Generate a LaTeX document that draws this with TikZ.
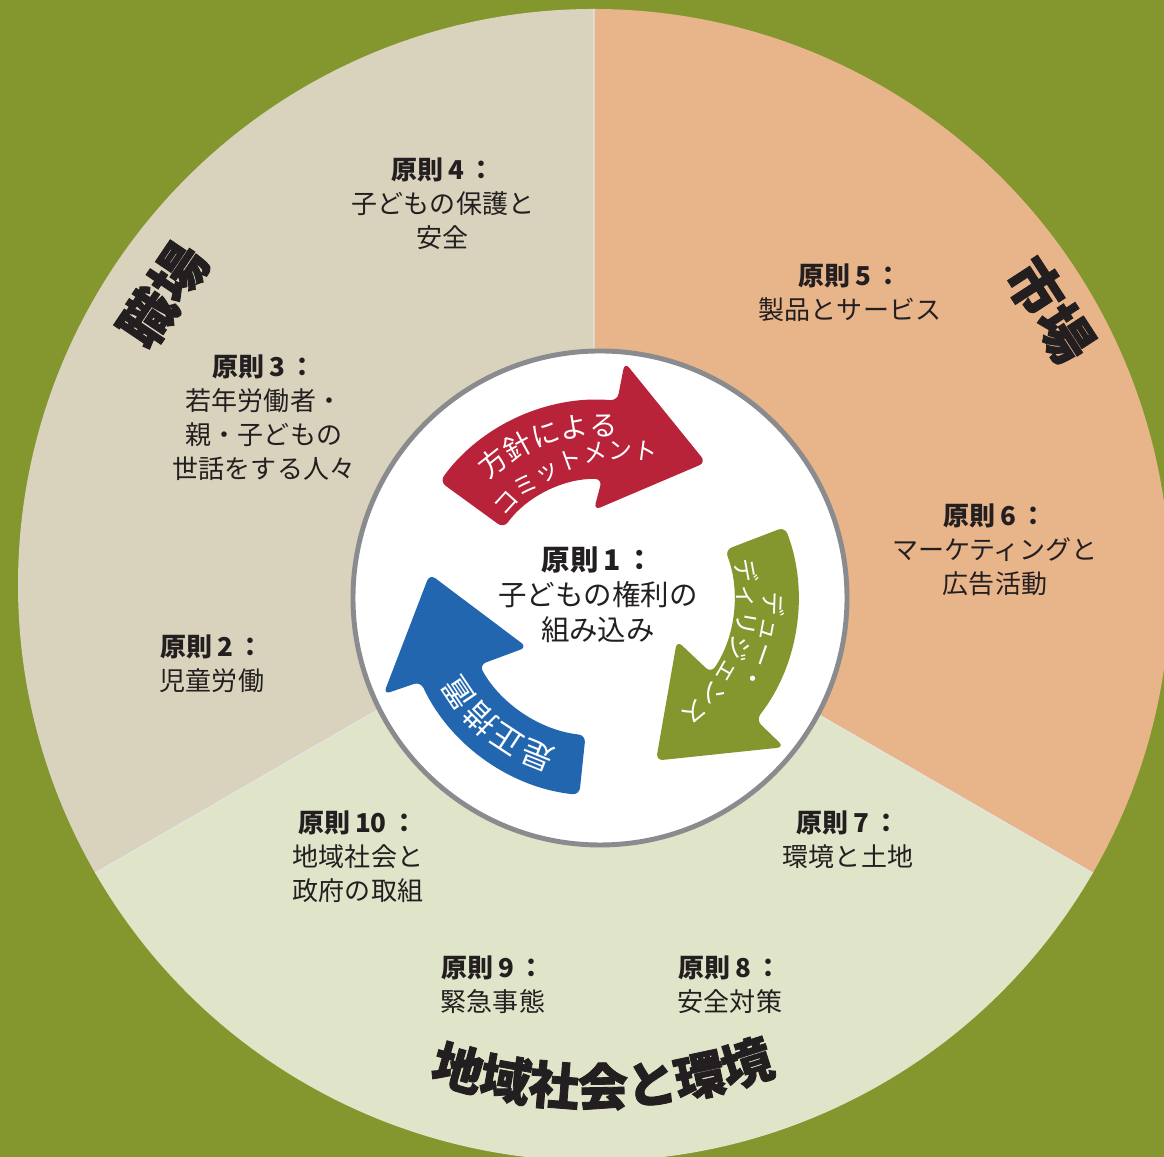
\documentclass[tikz,border=0pt]{standalone}
\usepackage{fontspec}
\setmainfont{Noto Sans CJK JP}
\newfontfamily\heavyfont{Noto Sans CJK JP}[BoldFeatures={FakeBold=1.6}]
\usepackage{tikz}
\usetikzlibrary{calc, decorations.text}
\definecolor{bgolive}{RGB}{132,151,46}
\definecolor{wpbeige}{RGB}{217,211,189}
\definecolor{mkpeach}{RGB}{232,180,138}
\definecolor{cmpale}{RGB}{224,228,200}
\definecolor{ringgray}{RGB}{138,139,142}
\definecolor{arrred}{RGB}{184,35,57}
\definecolor{arrblue}{RGB}{34,102,176}
\definecolor{inkdark}{RGB}{35,31,32}

\begin{document}
\begin{tikzpicture}[x=0.1mm, y=0.1mm,
    principle/.style={align=center, text=inkdark, font=\fontsize{7.4}{9.7}\selectfont},
    area/.style={text=inkdark, font=\heavyfont\bfseries\fontsize{15.6}{15.6}\selectfont},
    pics/cycarrow/.style={code={\path[pic actions, rounded corners=2pt] (0:198) arc (0:-59:198) -- (-60:237) -- (-92:172) -- (-50:88) -- (-55:#1) arc (-55:0:#1) -- cycle;}}]
    \useasboundingbox (0,0) rectangle (1164,1157);
    \clip (0,0) rectangle (1164,1157);
    \fill[bgolive] (0,0) rectangle (1164,1157);
    \coordinate (O) at (594,572);
    \coordinate (C) at (600,559);
    % three fields
    \fill[wpbeige] (O) -- ++(90:576) arc (90:210:576) -- cycle;
    \fill[cmpale] (O) -- ++(210:576) arc (210:330:576) -- cycle;
    \fill[mkpeach] (O) -- ++(330:576) arc (330:450:576) -- cycle;
    \draw[black!10, line width=0.3pt] (O) -- ++(90:576) (O) -- ++(210:576) (O) -- ++(330:576);
    \draw[ringgray, line width=1.4pt, fill=white] (C) circle (247);
    % cycle arrows
    \pic[fill=arrred, rotate=144] at (C) {cycarrow=119};
    \pic[fill=bgolive, rotate=21] at (C) {cycarrow=134};
    \pic[fill=arrblue, rotate=264] at (C) {cycarrow=138};
    \path[decorate, decoration={text along path, text align=center, text={|\color{white}\fontsize{8}{8}\selectfont|方針による}}] ($(C)+(138.5:162)$) arc (138.5:78.5:162);
    \path[decorate, decoration={text along path, text align=center, text={|\color{white}\fontsize{6.9}{6.9}\selectfont|コミットメント}}] ($(C)+(24,-11)+(150:150)$) arc (150:70:150);
    \path[decorate, decoration={text along path, text align=center, text={|\color{white}\fontsize{7}{7}\selectfont|デュー・}}] ($(C)+(10:164)$) arc (10:-40:164);
    \path[decorate, decoration={text along path, text align=center, text={|\color{white}\fontsize{7}{7}\selectfont|ディリジェンス}}] ($(C)+(20:139)$) arc (20:-60:139);
    \path[decorate, decoration={text along path, text align=center, text={|\color{white}\fontsize{9}{9}\selectfont|是正措置}}] ($(C)+(271:158)$) arc (271:191:158);
    % areas
    \node[area, rotate=56] (workplace) at (163,862) {職場};
    \node[area, rotate=-57] (market) at (1050,847) {市場};
    \path[decorate, decoration={text along path, text align=center, text={|\color{inkdark}\heavyfont\bfseries\fontsize{14.4}{14.4}\selectfont|地域社会と環境}}] ($(O)+(231:521)$) arc (231:311:521);
    % principles
    \node[principle, font=\fontsize{8.1}{10}\selectfont] (p1) at (598,562) {\textbf{原則\,1\,：}\\子どもの権利の\\組み込み};
    \node[principle] (p2) at (212,493) {\textbf{原則\,2\,：}\\児童労働};
    \node[principle] (p3) at (264,739) {\textbf{原則\,3\,：}\\若年労働者・\\親・子どもの\\世話をする人々};
    \node[principle] (p4) at (443,953) {\textbf{原則\,4\,：}\\子どもの保護と\\安全};
    \node[principle] (p5) at (850,864) {\textbf{原則\,5\,：}\\製品とサービス};
    \node[principle] (p6) at (995,607) {\textbf{原則\,6\,：}\\マーケティングと\\広告活動};
    \node[principle] (p7) at (848,317) {\textbf{原則\,7\,：}\\環境と土地};
    \node[principle] (p8) at (730,172) {\textbf{原則\,8\,：}\\安全対策};
    \node[principle] (p9) at (493,172) {\textbf{原則\,9\,：}\\緊急事態};
    \node[principle] (p10) at (358,300) {\textbf{原則\,10\,：}\\地域社会と\\政府の取組};
\end{tikzpicture}
\end{document}
